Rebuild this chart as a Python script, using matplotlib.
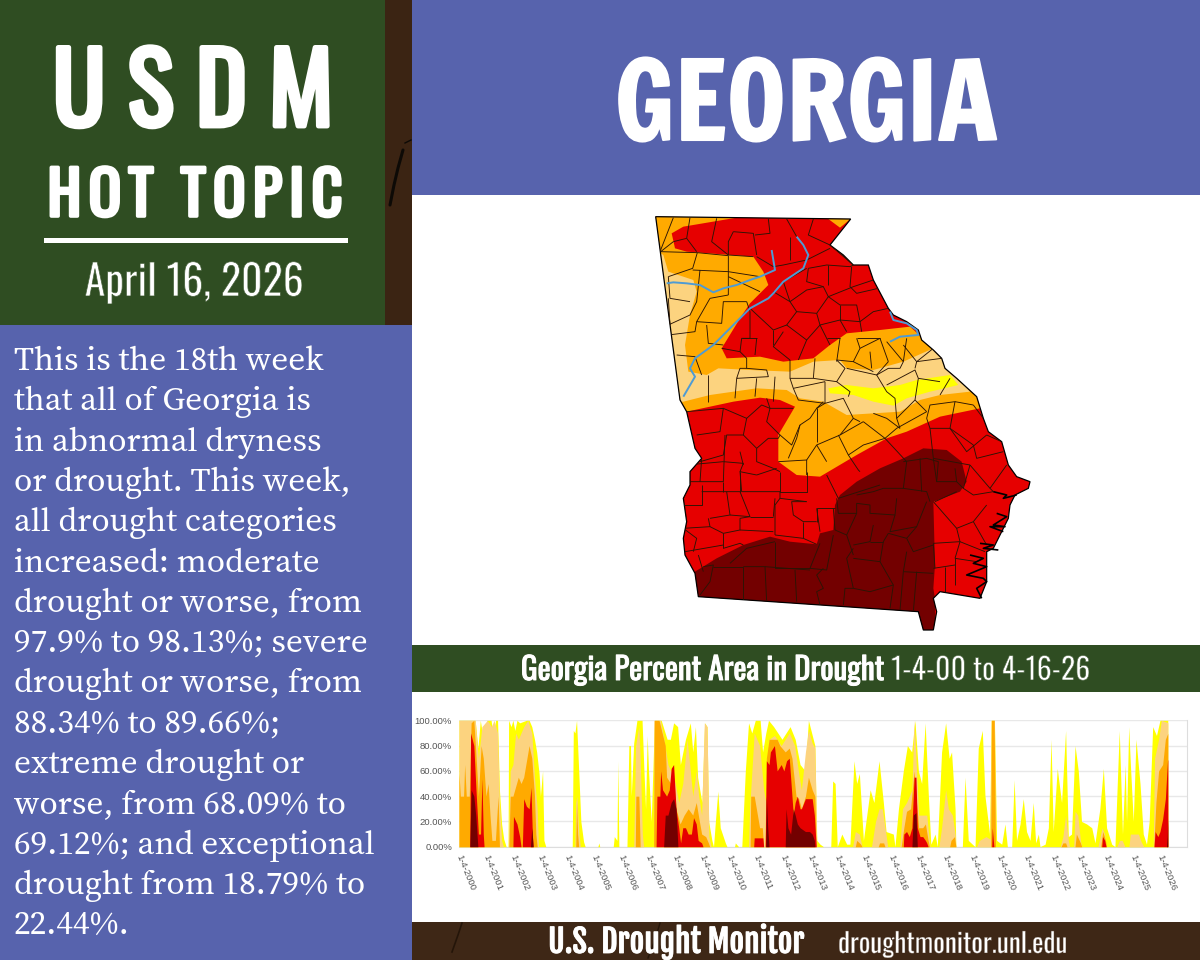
import matplotlib
matplotlib.use('Agg')
import matplotlib.pyplot as plt
import matplotlib.patheffects as pe
from matplotlib.patches import Rectangle, Polygon
from matplotlib.collections import LineCollection
import numpy as np
import logging
logging.getLogger('matplotlib.font_manager').setLevel(logging.ERROR)

# ---------- text ----------
BODY_LINES = ["This is the 18th week", "that all of Georgia is", "in abnormal dryness",
              "or drought. This week,", "all drought categories", "increased: moderate",
              "drought or worse, from", "97.9% to 98.13%; severe", "drought or worse, from",
              "88.34% to 89.66%;", "extreme drought or", "worse, from 68.09% to",
              "69.12%; and exceptional", "drought from 18.79% to", "22.44%."]
TICK_YEARS = list(range(2000, 2027))
PCT_TICKS = [0, 20, 40, 60, 80, 100]

# ---------- chart series: (year, cumulative percent area) ----------
D0 = [(2000.00,100),(2000.60,100),(2000.70,78),(2000.79,100),(2000.88,88),(2001.04,100),(2001.19,100),(2001.27,88),(2001.36,100),(2001.43,100),(2001.50,45),(2001.58,18),(2001.66,6),(2001.75,0),(2001.82,0),(2001.84,100),(2001.93,95),(2002.00,100),(2002.07,92),(2002.15,100),(2002.25,98),(2002.50,100),(2002.60,100),(2002.70,95),(2002.80,85),(2002.88,75),(2002.97,58),(2003.02,40),(2003.10,60),(2003.15,5),(2003.22,0),
 (2004.20,0),(2004.24,92),(2004.30,90),(2004.36,100),(2004.42,70),(2004.52,20),(2004.62,4),(2004.68,0),(2005.15,0),(2005.19,3),(2005.22,0),(2005.72,0),(2005.76,8),(2005.86,5),(2005.89,68),(2005.93,0),
 (2006.23,0),(2006.30,80),(2006.36,80),(2006.39,40),(2006.48,82),(2006.60,100),(2006.79,100),(2006.86,60),(2006.92,30),(2006.98,88),(2007.03,60),(2007.13,20),(2007.25,100),(2007.50,100),(2007.72,85),(2007.84,85),(2007.96,98),(2008.11,95),(2008.21,65),(2008.40,85),(2008.58,98),(2008.67,75),(2008.77,95),(2008.85,55),(2009.01,35),(2009.11,98),(2009.20,95),(2009.26,20),(2009.38,5),(2009.44,0),(2009.51,20),(2009.60,44),(2009.69,15),(2009.88,3),(2009.94,0),(2010.22,0),(2010.25,3),(2010.37,0),(2010.49,0),(2010.62,60),(2010.74,98),(2010.86,90),(2010.99,100),(2011.17,100),(2011.26,75),(2011.38,90),(2011.48,100),(2011.67,95),(2011.98,85),(2012.28,95),(2012.47,85),(2012.65,65),(2012.84,60),(2012.96,100),(2013.20,80),(2013.27,5),(2013.39,2),(2013.52,0),
 (2013.79,0),(2013.86,52),(2013.95,50),(2014.03,0),(2014.20,10),(2014.38,2),(2014.50,2),(2014.65,68),(2014.75,50),(2014.85,58),(2015.00,5),(2015.25,45),(2015.39,35),(2015.58,68),(2015.74,35),(2015.84,12),(2016.11,10),(2016.17,0),(2016.30,30),(2016.48,60),(2016.63,80),(2016.79,75),(2016.91,100),(2017.04,60),(2017.16,50),(2017.29,98),(2017.41,40),(2017.50,2),(2017.66,10),(2017.74,0),(2017.90,75),(2018.05,98),(2018.18,70),(2018.27,75),(2018.40,30),(2018.43,0),(2018.67,0),(2018.77,55),(2018.89,5),(2019.14,0),(2019.26,78),(2019.41,92),(2019.51,40),(2019.68,10),(2019.74,100),(2019.86,100),(2019.94,5),(2020.13,2),(2020.25,18),(2020.34,0),(2020.50,0),(2020.59,53),(2020.68,5),(2020.81,18),(2020.93,38),(2021.05,12),(2021.18,5),(2021.30,35),(2021.39,3),(2021.49,10),(2021.55,0),(2021.74,2),(2021.86,15),(2021.96,85),(2022.04,12),(2022.19,62),(2022.35,35),(2022.50,92),(2022.60,8),(2022.72,10),(2022.85,80),(2022.97,60),(2023.09,20),(2023.28,18),(2023.47,15),(2023.59,3),(2023.77,30),(2023.90,62),(2024.02,15),(2024.21,2),(2024.33,0),(2024.49,92),(2024.61,10),(2024.71,65),(2024.76,20),(2024.84,95),(2024.91,62),(2025.01,20),(2025.11,85),(2025.26,50),(2025.38,10),(2025.50,2),(2025.60,20),(2025.73,95),(2025.87,88),(2026.00,100),(2026.29,100),(2026.291,0)]
D1 = [(2000.00,100),(2000.60,100),(2000.72,70),(2000.85,95),(2001.05,100),(2001.20,95),(2001.30,100),(2001.43,90),(2001.50,35),(2001.58,5),(2001.65,0),(2001.83,0),(2001.90,60),(2002.00,65),(2002.10,90),(2002.20,85),(2002.40,95),(2002.55,100),(2002.70,90),(2002.80,55),(2002.90,30),(2002.95,0),
 (2004.30,0),(2004.33,35),(2004.37,40),(2004.45,10),(2004.50,0),(2006.48,0),(2006.55,80),(2006.67,95),(2006.72,70),(2006.80,10),(2006.85,0),(2007.22,0),(2007.24,100),(2007.47,100),(2007.60,85),(2007.75,65),(2007.85,60),(2007.95,55),(2008.02,50),(2008.15,35),(2008.30,50),(2008.46,85),(2008.58,60),(2008.67,40),(2008.80,60),(2008.89,40),(2009.00,25),(2009.10,98),(2009.20,95),(2009.27,8),(2009.35,0),
 (2010.74,0),(2010.78,30),(2010.85,55),(2010.95,90),(2011.15,80),(2011.30,45),(2011.38,35),(2011.42,60),(2011.50,85),(2011.70,88),(2011.95,80),(2012.25,90),(2012.45,80),(2012.60,58),(2012.70,45),(2012.85,75),(2012.96,92),(2013.10,82),(2013.20,78),(2013.27,0),
 (2014.60,0),(2014.70,12),(2014.85,10),(2014.95,0),(2015.30,0),(2015.45,20),(2015.58,30),(2015.70,30),(2015.85,8),(2015.90,0),(2016.35,0),(2016.45,30),(2016.60,35),(2016.80,45),(2016.88,100),(2016.95,70),(2017.05,25),(2017.20,25),(2017.35,25),(2017.42,10),(2017.47,0),(2017.80,0),(2017.90,15),(2018.05,45),(2018.15,30),(2018.30,25),(2018.40,10),(2018.43,0),(2019.20,0),(2019.30,5),(2019.55,8),(2019.70,6),(2019.74,100),(2019.86,100),(2019.90,0),(2022.30,0),(2022.40,8),(2022.50,25),(2022.60,5),(2022.65,0),(2022.80,0),(2022.85,28),(2022.95,25),(2023.05,5),(2023.10,0),(2023.70,0),(2023.85,15),(2023.95,10),(2024.00,0),(2024.40,0),(2024.50,5),(2024.60,5),(2024.70,0),(2024.85,0),(2024.90,10),(2025.20,10),(2025.30,4),(2025.40,0),(2025.75,0),(2025.80,70),(2025.95,85),(2026.05,100),(2026.29,98.13),(2026.291,0)]
D2 = [(2000.00,58),(2000.05,40),(2000.17,40),(2000.21,65),(2000.27,40),(2000.38,40),(2000.45,98),(2000.55,100),(2000.65,65),(2000.72,40),(2000.82,80),(2000.90,70),(2001.00,40),(2001.08,50),(2001.15,25),(2001.22,5),(2001.35,5),(2001.45,40),(2001.50,0),(2001.85,0),(2001.90,40),(2002.00,40),(2002.20,55),(2002.30,50),(2002.40,55),(2002.48,65),(2002.60,80),(2002.70,70),(2002.80,40),(2002.85,10),(2002.90,0),
 (2004.33,0),(2004.36,35),(2004.40,10),(2004.44,0),(2006.54,0),(2006.56,40),(2006.67,40),(2006.72,0),(2007.22,0),(2007.24,100),(2007.42,100),(2007.65,80),(2007.70,55),(2007.85,50),(2007.95,60),(2008.05,30),(2008.20,18),(2008.35,25),(2008.50,30),(2008.67,25),(2008.80,35),(2008.90,22),(2009.00,10),(2009.15,8),(2009.25,3),(2009.30,0),
 (2010.80,0),(2010.82,40),(2010.95,40),(2011.15,15),(2011.25,15),(2011.30,0),(2011.35,0),(2011.40,70),(2011.50,85),(2011.80,85),(2011.90,80),(2012.10,75),(2012.25,78),(2012.35,70),(2012.50,40),(2012.60,38),(2012.70,30),(2012.85,40),(2012.96,55),(2013.10,45),(2013.20,40),(2013.25,0),
 (2014.70,0),(2014.75,5),(2014.90,2),(2014.95,0),(2015.55,0),(2015.60,3),(2015.75,3),(2015.80,0),(2016.40,0),(2016.50,15),(2016.60,28),(2016.75,30),(2016.88,60),(2016.95,40),(2017.05,15),(2017.20,15),(2017.30,18),(2017.40,5),(2017.45,0),(2018.20,0),(2018.25,5),(2018.38,8),(2018.43,0),(2019.72,0),(2019.75,100),(2019.85,100),(2019.90,0),(2022.33,0),(2022.40,3),(2022.50,3),(2022.55,0),(2022.85,0),(2022.90,10),(2023.05,3),(2023.10,0),(2023.80,0),(2023.88,12),(2023.98,5),(2024.02,0),(2025.77,0),(2025.85,35),(2025.95,60),(2026.10,65),(2026.20,85),(2026.29,89.66),(2026.291,0)]
D3 = [(2000.40,0),(2000.43,90),(2000.55,80),(2000.63,45),(2000.72,10),(2000.80,10),(2000.85,54),(2000.90,10),(2000.93,0),(2002.00,0),(2002.02,24),(2002.15,18),(2002.25,8),(2002.30,0),(2002.35,0),(2002.40,38),(2002.50,32),(2002.60,30),(2002.67,47),(2002.72,10),(2002.75,0),
 (2007.31,0),(2007.34,40),(2007.45,40),(2007.48,60),(2007.55,45),(2007.70,40),(2007.80,45),(2007.87,62),(2007.96,65),(2008.05,30),(2008.15,15),(2008.22,3),(2008.30,15),(2008.40,15),(2008.50,10),(2008.62,10),(2008.70,23),(2008.80,18),(2008.87,5),(2009.00,3),(2009.05,0),
 (2010.93,0),(2010.95,7),(2011.27,7),(2011.30,0),(2011.36,0),(2011.40,68),(2011.50,65),(2011.55,75),(2011.70,80),(2011.80,60),(2011.95,65),(2012.05,60),(2012.15,68),(2012.25,70),(2012.30,55),(2012.40,25),(2012.47,35),(2012.55,40),(2012.65,30),(2012.70,30),(2012.85,38),(2013.10,38),(2013.18,25),(2013.25,0),
 (2016.48,0),(2016.50,10),(2016.60,12),(2016.70,8),(2016.80,15),(2016.88,55),(2016.95,55),(2017.00,15),(2017.10,8),(2017.20,8),(2017.30,5),(2017.35,3),(2017.40,0),(2019.76,0),(2019.78,15),(2019.82,5),(2019.84,0),(2023.84,0),(2023.87,8),(2023.95,5),(2024.00,0),(2025.78,0),(2025.82,12),(2025.92,8),(2026.00,12),(2026.10,22),(2026.20,38),(2026.28,68),(2026.29,69.12),(2026.291,0)]
D4 = [(2000.40,0),(2000.45,45),(2000.55,40),(2000.62,25),(2000.70,0),(2002.65,0),(2002.70,15),(2002.75,0),(2007.59,0),(2007.65,25),(2007.75,25),(2007.87,35),(2007.96,38),(2008.05,30),(2008.12,0),
 (2011.38,0),(2011.40,40),(2011.45,15),(2011.50,0),(2012.10,0),(2012.13,30),(2012.20,15),(2012.30,10),(2012.40,30),(2012.47,25),(2012.55,18),(2012.65,15),(2012.85,12),(2013.00,12),(2013.10,10),(2013.18,5),(2013.20,0),(2016.80,0),(2016.85,25),(2016.95,27),(2017.00,0),(2026.24,0),(2026.27,8),(2026.29,22.44),(2026.291,0)]
SERIES = [D0, D1, D2, D3, D4]
SERIES_COLORS = ['#FFFF00', '#FCD37F', '#FFAA00', '#E60000', '#730000']

# ---------- map geometry (crop units: 3 per picture pixel) ----------
STATE = [(47,35),(632,42),(570,120),(610,150),(640,180),(685,180),(700,225),(745,310),(760,330),(800,350),(835,375),(845,405),(880,435),(905,460),(915,490),(950,520),(1010,575),(1030,640),(1045,680),(1085,710),(1105,780),(1130,815),(1170,830),(1165,850),(1125,870),(1110,900),(1105,940),(1080,990),(1060,1030),(1040,1040),(1040,1130),(1020,1180),(960,1170),(900,1160),(880,1180),(890,1220),(880,1275),(850,1275),(835,1220),(175,1175),(165,1105),(135,1050),(130,1000),(140,950),(130,880),(150,840),(150,800),(185,760),(165,730),(140,620),(120,585)]
ORANGE_A = [(30,20),(290,38),(130,65),(95,85),(105,130),(140,140),(340,155),(370,200),(385,240),(330,295),(300,340),(245,430),(260,460),(360,455),(430,470),(520,460),(570,420),(620,385),(720,375),(810,365),(860,410),(1020,570),(1020,610),(900,635),(800,680),(740,700),(650,750),(540,815),(470,810),(415,770),(415,690),(465,605),(420,585),(360,578),(280,590),(140,620),(30,620)]
ORANGE_B = [(565,42),(640,35),(600,68)]
TAN = [(40,130),(70,150),(85,200),(160,225),(170,260),(150,330),(135,420),(145,500),(200,510),(235,490),(330,495),(450,500),(520,470),(600,465),(620,490),(700,495),(790,470),(880,430),(920,470),(990,560),(900,570),(840,585),(780,620),(700,625),(620,630),(550,590),(480,580),(440,555),(350,550),(210,570),(130,590),(30,600)]
YELLOW = [(565,550),(620,540),(700,550),(780,540),(830,525),(930,510),(955,540),(870,560),(800,580),(760,602),(700,590),(640,570),(570,565)]
DARK = [(165,1100),(230,1060),(310,1020),(390,995),(450,1010),(530,1018),(540,985),(580,975),(585,900),(600,870),(650,830),(720,790),(790,760),(850,730),(920,735),(965,770),(980,830),(960,860),(880,890),(885,1080),(880,1150),(885,1180),(885,1290),(840,1290),(835,1225),(165,1185)]
RIVERS = [[(470,95),(490,120),(505,150),(490,190),(430,230),(400,265),(385,280),(330,310),(300,340),(220,420),(165,460),(150,490),(165,515),(130,575)],
          [(80,235),(100,232),(140,235),(180,240),(220,262),(250,250),(290,240),(330,225),(360,215),(405,195),(395,135)],
          [(750,320),(760,345),(800,355),(830,375),(835,390),(780,395),(750,410)]]
COUNTIES = [
 [(150,38),(140,100),(170,140)],[(230,40),(215,110),(265,150),(340,155)],[(280,80),(265,110),(265,150)],[(280,80),(340,85),(350,150)],
 [(385,42),(390,85),(345,90)],[(440,42),(470,95)],[(520,42),(505,90),(570,120)],[(450,95),(450,165)],[(350,155),(400,185),(430,180),(500,165),(570,130)],
 [(505,190),(560,180),(630,185),(640,180)],[(430,230),(500,190)],[(505,190),(500,230),(550,245),(565,275),(640,245),(700,225)],[(565,180),(565,240)],
 [(635,185),(630,245),(650,265),(715,250)],[(450,290),(500,255),(550,245)],[(450,290),(470,320),(530,325),(565,275)],
 [(530,325),(540,360),(600,345),(660,350),(700,320),(745,310)],[(600,300),(600,345)],[(565,275),(600,300),(650,300),(660,350)],[(660,350),(665,380)],
 [(330,310),(400,375),(440,360),(470,320)],[(400,375),(400,420)],[(330,320),(330,400),(305,400),(300,440)],[(440,360),(500,405),(540,360)],
 [(430,380),(400,425),(450,465)],[(500,405),(475,465)],[(350,400),(345,450)],[(305,400),(350,400)],[(245,430),(300,440),(320,460),(320,490)],
 [(100,38),(62,135)],[(62,140),(172,143),(158,190),(85,215)],[(172,143),(265,152),(265,270)],[(158,195),(265,200),(360,215)],[(180,195),(170,290),(150,330),(85,360)],
 [(210,280),(170,350),(245,355),(250,290),(320,290)],[(170,350),(165,380),(85,390)],[(200,360),(205,415),(250,420)],[(110,450),(165,455),(185,510)],
 [(205,510),(205,590)],[(290,520),(285,580)],[(290,520),(300,490),(320,490),(380,495),(385,515),(290,520)],[(350,520),(345,575)],[(405,515),(400,590)],
 [(450,520),(460,550),(475,585),(555,595)],[(450,465),(450,520),(520,520),(525,460)],[(520,520),(590,530),(615,490),(590,465)],
 [(555,530),(555,595),(610,580),(640,640),(660,650)],[(590,530),(630,560),(625,575)],[(620,490),(710,510),(740,560),(765,580),(770,640),(780,670)],
 [(710,510),(745,490),(780,490),(790,470)],[(740,540),(825,495),(835,520),(825,585)],[(825,490),(830,470),(905,460)],[(650,400),(660,430),(640,470),(700,500)],
 [(690,440),(695,490)],[(660,430),(720,400),(745,470)],[(740,410),(790,470),(800,400)],[(790,420),(830,470)],[(600,400),(590,470)],
 [(140,620),(250,610),(240,680),(170,690)],[(250,610),(320,640),(310,690),(260,690),(250,750),(180,770)],[(320,640),(365,600),(390,610),(380,650),(420,690)],
 [(380,580),(390,610),(460,610)],[(310,690),(350,730),(385,700),(415,700)],[(350,730),(350,770),(400,790)],[(255,690),(250,830),(150,830)],[(250,770),(310,775),(300,800),(350,810)],
 [(300,740),(310,780)],[(300,800),(305,860),(420,860)],[(185,840),(185,900),(130,900)],[(185,860),(260,860),(270,930),(210,940)],[(260,860),(300,860),(330,935),(270,930)],
 [(330,935),(400,935)],[(420,800),(420,860),(500,860),(500,800)],[(420,880),(405,900),(405,990)],[(400,935),(405,880)],[(500,890),(455,890),(460,930),(490,950),(530,950)],
 [(530,950),(530,910),(585,910)],[(490,950),(490,1000)],[(530,910),(540,980)],[(130,970),(210,965),(205,940)],[(210,965),(250,985),(300,975),(300,940)],[(250,985),(250,1030)],
 [(135,1040),(250,1020)],[(175,1050),(190,1100)],[(415,700),(420,690),(455,720),(480,660),(510,640)],[(480,660),(470,700),(445,760)],[(415,770),(500,765),(500,810)],
 [(500,765),(530,720),(600,690),(670,650)],[(530,720),(560,770)],[(595,690),(625,750),(655,795),(660,800)],[(510,640),(530,610),(550,590)],[(530,610),(530,710)],
 [(670,650),(735,700),(770,670),(860,620)],[(625,750),(670,720),(735,700)],[(560,810),(595,880),(720,840)],[(735,700),(800,770),(790,850)],
 [(860,640),(870,670),(930,670),(945,590),(870,600),(860,640)],[(945,590),(1000,600)],[(930,670),(980,740),(1040,690)],[(870,670),(880,760)],[(1000,720),(1010,760),(1090,740)],
 [(990,780),(1050,850),(1100,780)],[(990,780),(970,850),(1000,870),(1060,860)],[(885,890),(950,860)],[(880,890),(950,970),(960,1010)],[(950,970),(1000,950),(1040,900)],
 [(1000,950),(1040,1020)],[(960,1010),(1035,1040)],[(880,1015),(960,1010),(945,1060)],[(945,1060),(1010,1070)],[(880,1090),(945,1080)],[(915,1085),(915,1160)],
 [(650,870),(700,860),(730,850),(790,850),(860,860),(870,890)],[(590,880),(595,925),(650,925),(650,895),(690,900),(690,925),(765,930),(770,880)],[(840,760),(845,860)],
 [(790,770),(860,760),(895,770),(890,830),(950,830),(945,790)],[(650,925),(620,990),(640,1050)],[(765,930),(750,980),(830,965),(860,890)],[(830,965),(800,1000),(820,1040),(880,1020)],
 [(540,1015),(510,1090),(560,1095),(580,990)],[(405,1010),(405,1090),(510,1090)],[(270,1075),(320,1030),(405,1010)],[(190,1085),(220,1080),(210,1130),(180,1170)],
 [(220,1085),(310,1085),(310,1185)],[(310,1085),(375,1085),(380,1190)],[(375,1085),(510,1095)],[(465,1095),(470,1190)],[(550,1090),(530,1110),(550,1150),(530,1160),(540,1200)],
 [(640,1030),(620,1060),(640,1150),(615,1150),(610,1200)],[(640,1060),(720,1070),(760,1140),(750,1210)],[(720,1070),(730,1010),(745,985)],[(790,1100),(880,1105)],[(790,1100),(780,1215)],
 [(800,1040),(790,1100)],[(640,1150),(690,1160),(760,1140)],[(830,1100),(820,1220)],
 [(140,780),(250,770)],[(185,760),(180,830)],[(300,940),(330,935)],[(150,830),(130,880)],[(130,900),(140,950)],[(300,860),(300,800)],[(420,860),(420,880),(500,890)],[(350,810),(410,790)],[(400,790),(420,800)],[(250,830),(250,860)],[(160,1040),(170,1000),(130,970)],[(250,1030),(300,1015),(310,1020)],[(300,975),(400,980)],[(490,1000),(530,1018)],[(405,990),(490,1000)],[(580,910),(585,975)],[(585,975),(620,990)],
 [(700,960),(690,1010),(640,1020)],[(690,1010),(730,1010)],[(745,985),(800,1000)],[(880,760),(990,780)],[(880,760),(890,830)],[(950,830),(970,850)],[(1050,850),(1060,860)],[(1040,690),(1085,710)],[(930,670),(1000,720)],[(1000,600),(1030,640)],[(945,1060),(945,1140)],[(1010,1070),(1030,1060)],[(880,1015),(885,1090)],
 [(570,120),(640,180)],[(100,110),(140,100)],[(62,140),(100,110)],[(85,215),(90,280),(150,290)],[(85,280),(90,360)],[(265,270),(210,280)],[(320,290),(330,320)],[(265,215),(360,260)],[(400,260),(450,290)],[(430,230),(450,290)],[(600,345),(620,380)],[(540,360),(570,420)],[(560,400),(600,400)],
 [(640,640),(600,690)],[(700,625),(740,640),(780,670)],[(770,640),(825,585)],[(825,585),(860,620)],[(555,595),(530,610)],[(460,550),(555,530)],[(640,470),(590,465)],[(900,570),(930,520)],[(830,470),(880,430)],[(720,400),(650,400)],[(745,470),(710,510)],[(835,520),(900,530)]]
COAST_MARKS = [[(1060,860),(1100,870),(1090,880),(1130,870)],[(1070,925),(1100,935),(1060,960),(1095,965),(1050,965),(1090,980)],[(1020,1015),(1060,1020),(1030,1030),(1075,1035)],
               [(990,1050),(1030,1060),(1000,1075),(1040,1085),(980,1110),(1030,1120),(1040,1130),(1010,1150),(1025,1180)]]

# ---------- colours and fonts ----------
GREEN = '#2F4D22'; BROWN = '#3B2413'; BLUE = '#5763AD'; BAND = '#2F4D22'; FOOT = '#3E2716'
HEAD = ['Oswald', 'Fjalla One', 'Liberation Sans Narrow', 'DejaVu Sans']
HEAVY = ['Fjalla One', 'Oswald', 'Liberation Sans Narrow', 'DejaVu Sans']
WIDE = ['Francois One', 'Fjalla One', 'Oswald', 'DejaVu Sans']
SERIF = ['Source Serif 4', 'Source Serif Pro', 'Noto Serif', 'DejaVu Serif']

fig = plt.figure(figsize=(12, 9.6), dpi=100, facecolor='white')
bg = fig.add_axes([0, 0, 1, 1], zorder=0)
bg.set_xlim(0, 1200); bg.set_ylim(960, 0); bg.axis('off')
for (x, y, w, h, c) in [(0,0,385,325,GREEN),(385,0,27,325,BROWN),(0,325,412,635,BLUE),(412,0,788,195,BLUE),
                        (412,645,788,47,BAND),(412,922,788,38,FOOT)]:
    bg.add_patch(Rectangle((x, y), w, h, fc=c, ec='none'))
bg.add_patch(Rectangle((44, 237.5), 304, 5, fc='white', ec='none'))
# cracks in the brown texture
bg.plot([403,398,394,390],[150,168,185,205], color='#0d0a06', lw=2.2, solid_capstyle='round')
bg.plot([405,411],[143,140], color='#0d0a06', lw=1)
bg.plot([462,458,452],[923,935,952], color='#241509', lw=1.2)
bg.plot([660,655,648],[923,940,958], color='#241509', lw=1.0)

def T(x, y, s, px, family=HEAD, ha='left', bold=0, thin=0, back=GREEN):
    t = bg.text(x, y, s, fontsize=px*0.72, family=family, ha=ha, va='baseline', color='white')
    if bold:
        t.set_path_effects([pe.withStroke(linewidth=bold, foreground='white')])
    if thin:
        t.set_path_effects([pe.Normal(), pe.Stroke(linewidth=thin, foreground=back)])
    return t

TS = '\u2009'
T(193, 126, 'U S D M', 97, ha='center', bold=3.5)
T(195, 216, TS.join('HOT') + '  ' + TS.join('TOPIC'), 60, ha='center', bold=2.6)
T(194, 296, 'April 16, 2026', 42, ha='center', thin=0.5, back=GREEN)
T(806, 140, 'GEORGIA', 108, family=WIDE, ha='center', bold=1.5)
T(521, 680, 'Georgia Percent Area in Drought', 31, bold=0.7)
T(891, 680, '1-4-00 to 4-16-26', 30, thin=0.45, back=BAND)
T(548, 953, 'U.S. Drought Monitor', 31.6, family=HEAVY, bold=0.6)
T(838, 953, 'droughtmonitor.unl.edu', 27.2, thin=0.3, back=FOOT)
for i, line in enumerate(BODY_LINES):
    T(14, 370 + i*40.3, line, 33.3, family=SERIF)

# ---------- map ----------
mp = fig.add_axes([640/1200, 1-(205+1290/3)/960, 400/1200, (1290/3)/960], zorder=1)
mp.set_xlim(0, 1200); mp.set_ylim(1290, 0); mp.axis('off')
state = Polygon(STATE, closed=True, fc='#E60000', ec='none')
mp.add_patch(state)
clip = Polygon(STATE, closed=True, transform=mp.transData)
for pts, col in [(ORANGE_A,'#FFAA00'),(ORANGE_B,'#FFAA00'),(TAN,'#FCD37F'),(YELLOW,'#FFFF00'),(DARK,'#730000')]:
    p = Polygon(pts, closed=True, fc=col, ec='none')
    mp.add_patch(p); p.set_clip_path(clip)
lc = LineCollection(COUNTIES, colors='#2a1505', linewidths=0.65)
mp.add_collection(lc); lc.set_clip_path(clip)
mp.add_collection(LineCollection(RIVERS, colors='#4E9BD4', linewidths=1.4))
mp.add_patch(Polygon(STATE, closed=True, fc='none', ec='black', lw=0.9))
mp.add_collection(LineCollection(COAST_MARKS, colors='black', linewidths=1.2))

# ---------- chart ----------
L, R, Tp, B = 459, 1187, 720.3, 846.7
ax = fig.add_axes([L/1200, 1-B/960, (R-L)/1200, (B-Tp)/960], zorder=2)
ax.set_xlim(2000, 2000 + (R-L)/26.96); ax.set_ylim(0, 100)
for s, c in zip(SERIES, SERIES_COLORS):
    xs, ys = zip(*s)
    ax.fill_between(xs, ys, 0, color=c, lw=0, zorder=3)
ax.set_yticks(PCT_TICKS, [f'{v:.2f}%' for v in PCT_TICKS])
ax.set_xticks(TICK_YEARS, [f'1-4-{y}' for y in TICK_YEARS], rotation=-68, ha='left', va='center', rotation_mode='anchor')
ax.tick_params(axis='both', length=0, labelsize=6.8, labelcolor='#555555')
ax.tick_params(axis='y', pad=5); ax.tick_params(axis='x', pad=6)
for t in ax.get_xticklabels() + ax.get_yticklabels():
    t.set_family(['Liberation Sans', 'DejaVu Sans'])
ax.grid(axis='y', color='#e8e8e8', lw=1, zorder=1)
for k, s in ax.spines.items():
    s.set_visible(k in ('right', 'bottom')); s.set_color('#dddddd')
ax.set_axisbelow(True)

fig.savefig('out.png', dpi=100)
